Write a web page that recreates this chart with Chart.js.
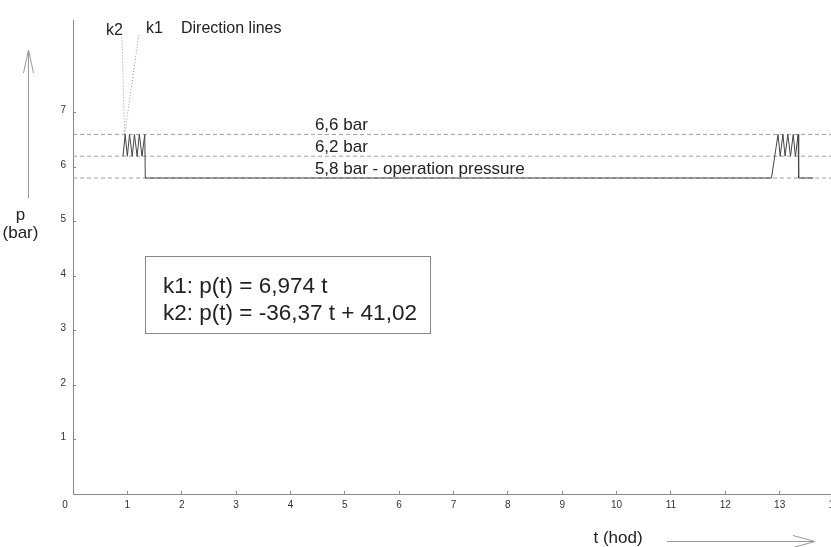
<!DOCTYPE html>
<html><head><meta charset="utf-8">
<script src="https://cdn.jsdelivr.net/npm/chart.js@4/dist/chart.umd.min.js"></script>
<style>
html,body{margin:0;padding:0;background:#fff;overflow:hidden;}
#wrap{width:831px;height:547px;overflow:hidden;position:relative;}
canvas{display:block;}
</style></head>
<body><div id="wrap"><canvas id="c" width="850" height="547" style="width:850px;height:547px"></canvas></div>
<script>
// ---- data ----
const xTicks = [0,1,2,3,4,5,6,7,8,9,10,11,12,13,14];
const yTicks = [0,1,2,3,4,5,6,7];
const pressureT = [0.92,0.96,1.00,1.04,1.09,1.13,1.18,1.22,1.27,1.32,1.33,12.85,12.97,13.01,13.06,13.10,13.15,13.20,13.25,13.29,13.34,13.35,13.62];
const pressureP = [6.2, 6.6, 6.2, 6.6, 6.2, 6.6, 6.2, 6.6, 6.2, 6.6, 5.8, 5.8,  6.6,  6.2,  6.6,  6.2,  6.6,  6.2,  6.6,  6.2,  6.6,  5.8,  5.8];
const limitLevels = [6.6, 6.2, 5.8];
const limitLabels = ['6,6 bar', '6,2 bar', '5,8 bar - operation pressure'];
const k1T = [0.95, 1.21];
const k1P = [6.6, 8.42];
const k2T = [0.95, 0.90];
const k2P = [6.6, 8.40];
const equations = ['k1: p(t) = 6,974 t', 'k2: p(t) = -36,37 t + 41,02'];
const FONT = '"Liberation Sans", Arial, sans-serif';

const pts = (xs, ys) => xs.map((x, i) => ({x: x, y: ys[i]}));

const datasets = [
  {label: 'pressure', data: pts(pressureT, pressureP), borderColor: '#444', borderWidth: 1, order: 0},
  {label: 'k1', data: pts(k1T, k1P), borderColor: '#999', borderWidth: 1, borderDash: [1, 2], order: 1},
  {label: 'k2', data: pts(k2T, k2P), borderColor: '#999', borderWidth: 1, borderDash: [1, 2], order: 1}
];
limitLevels.forEach((lv, i) => {
  datasets.push({label: limitLabels[i], data: [{x: xTicks[0], y: lv}, {x: xTicks[xTicks.length - 1], y: lv}],
    borderColor: '#a0a0a0', borderWidth: 1, borderDash: [4, 3], order: 2});
});
datasets.forEach(d => { d.showLine = true; d.pointRadius = 0; d.tension = 0; d.fill = false; });

const annot = {
  id: 'annot',
  afterDraw(chart) {
    const ctx = chart.ctx, xs = chart.scales.x, ys = chart.scales.y;
    ctx.save();
    ctx.fillStyle = '#222';
    ctx.textBaseline = 'alphabetic';
    ctx.textAlign = 'left';
    // level labels
    ctx.font = '17px ' + FONT;
    limitLevels.forEach((lv, i) => {
      ctx.fillText(limitLabels[i], xs.getPixelForValue(4.45), ys.getPixelForValue(lv) - 4);
    });
    // direction lines labels
    ctx.font = '16px ' + FONT;
    ctx.fillText('k2', 106, 35);
    ctx.fillText('k1', 146, 33);
    ctx.fillText('Direction lines', 181, 33);
    // equation box
    ctx.strokeStyle = '#888';
    ctx.lineWidth = 1;
    ctx.strokeRect(145.5, 256.5, 285, 77);
    ctx.font = '22.5px ' + FONT;
    ctx.fillText(equations[0], 163, 293);
    ctx.fillText(equations[1], 163, 320);
    // origin label
    ctx.font = '10px ' + FONT;
    ctx.fillStyle = '#333';
    ctx.textAlign = 'center';
    ctx.textBaseline = 'middle';
    ctx.fillText('0', xs.getPixelForValue(0) - 8, ys.getPixelForValue(0) + 11);
    // axis titles
    ctx.fillStyle = '#222';
    ctx.font = '17px ' + FONT;
    ctx.textBaseline = 'alphabetic';
    ctx.fillText('p', 20.5, 220);
    ctx.fillText('(bar)', 20.5, 238);
    ctx.fillText('t (hod)', 618, 543);
    // arrows
    ctx.strokeStyle = '#999';
    ctx.lineWidth = 1;
    ctx.beginPath();
    ctx.moveTo(28.5, 198); ctx.lineTo(28.5, 50);
    ctx.moveTo(23.5, 73); ctx.lineTo(28.5, 50); ctx.lineTo(33.5, 73);
    ctx.moveTo(667, 541.5); ctx.lineTo(815, 541.5);
    ctx.moveTo(793, 535.5); ctx.lineTo(815, 541.5); ctx.lineTo(793, 547.5);
    ctx.stroke();
    ctx.restore();
  }
};

new Chart(document.getElementById('c'), {
  type: 'scatter',
  data: {datasets: datasets},
  options: {
    responsive: false,
    animation: false,
    layout: {padding: {top: 20, right: 16, left: 0, bottom: 0}},
    plugins: {legend: {display: false}, tooltip: {enabled: false}},
    scales: {
      x: {
        type: 'linear', position: 'bottom', min: 0, max: 14,
        afterBuildTicks: s => { s.ticks = xTicks.map(v => ({value: v})); },
        afterFit: s => { s.height = 53; s.paddingLeft = 0; s.paddingRight = 0; },
        ticks: {callback: v => (v === 0 ? '' : String(v)), color: '#333', font: {family: FONT, size: 10}, padding: 8, maxRotation: 0, autoSkip: false},
        grid: {drawOnChartArea: false, drawTicks: true, tickLength: -3, color: '#888'},
        border: {color: '#888', width: 1}
      },
      y: {
        type: 'linear', position: 'left', min: 0, max: 8.7,
        afterBuildTicks: s => { s.ticks = yTicks.map(v => ({value: v})); },
        afterFit: s => { s.width = 73; s.paddingTop = 0; s.paddingBottom = 0; },
        ticks: {callback: v => (v === 0 ? '' : String(v)), color: '#333', font: {family: FONT, size: 10}, padding: 10, labelOffset: -2, autoSkip: false},
        grid: {drawOnChartArea: false, drawTicks: true, tickLength: -3, color: '#888'},
        border: {color: '#888', width: 1}
      }
    }
  },
  plugins: [annot]
});
</script>
</body></html>
